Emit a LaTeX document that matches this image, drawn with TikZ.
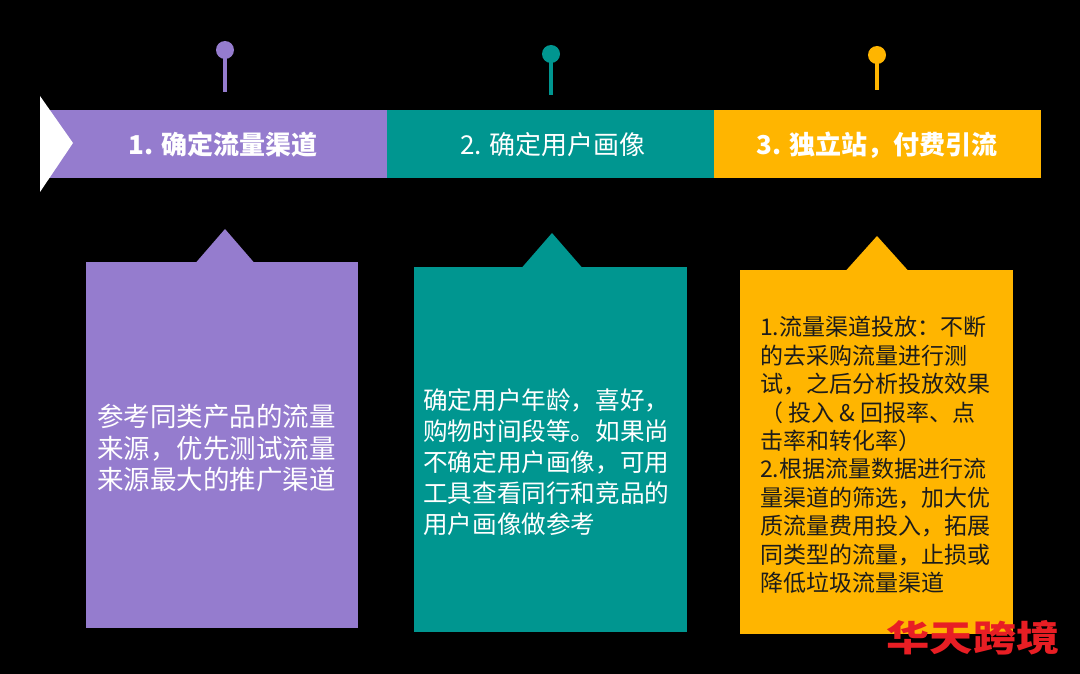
\documentclass[tikz,border=0pt]{standalone}
\usepackage{fontspec}
\newfontfamily\cjk{Noto Sans CJK SC}
\definecolor{cpurple}{RGB}{149,124,206}
\definecolor{cteal}{RGB}{0,150,144}
\definecolor{cyellow}{RGB}{255,181,0}
\definecolor{cred}{RGB}{232,30,36}
\definecolor{cdark}{RGB}{28,28,28}
\begin{document}
\begin{tikzpicture}[x=1pt,y=-1pt,
  barseg/.style={rectangle, draw=none, minimum height=68pt, inner sep=0pt, outer sep=0pt, anchor=north west},
  bartext/.style={inner sep=0pt, text=white, font={\cjk\fontsize{26}{26}\selectfont}},
  pinhead/.style={circle, minimum size=18pt, inner sep=0pt, outer sep=0pt},
  pinstem/.style={line width=4pt},
  card/.style={rectangle, draw=none, inner sep=0pt, outer sep=0pt, anchor=north west},
  cardtext/.style={anchor=west, align=left, inner sep=0pt}
]
\fill[black] (0,0) rectangle (1080,674);
\useasboundingbox (0,0) rectangle (1080,674);

% bar segments
\node[barseg, fill=cpurple, minimum width=342pt] (s1) at (45,110) {};
\node[barseg, fill=cteal, minimum width=327pt] (s2) at (387,110) {};
\node[barseg, fill=cyellow, minimum width=327pt] (s3) at (714,110) {};
\fill[white] (40,96) -- (73,143) -- (40,192) -- cycle;

\node[bartext, font={\cjk\bfseries\fontsize{26}{26}\selectfont}] (l1) at (223,145) {1. 确定流量渠道};
\node[bartext] (l2) at (553,145) {2. 确定用户画像};
\node[bartext, font={\cjk\bfseries\fontsize{26}{26}\selectfont}] (l3) at (877,145) {3. 独立站，付费引流};

% pins
\node[pinhead, fill=cpurple] (p1) at (225,50) {};
\coordinate (p1e) at (225,92);
\draw[pinstem, cpurple] (p1.center) -- (p1e);
\node[pinhead, fill=cteal] (p2) at (551,54) {};
\coordinate (p2e) at (551,95);
\draw[pinstem, cteal] (p2.center) -- (p2e);
\node[pinhead, fill=cyellow] (p3) at (877,55) {};
\coordinate (p3e) at (877,90);
\draw[pinstem, cyellow] (p3.center) -- (p3e);

% cards
\node[card, fill=cpurple, minimum width=272pt, minimum height=366pt] (c1) at (86,262) {};
\fill[cpurple] (196,262.5) -- (225,229) -- (254,262.5) -- cycle;
\node[card, fill=cteal, minimum width=273pt, minimum height=365pt] (c2) at (414,267) {};
\fill[cteal] (522,267.5) -- (552,233) -- (582,267.5) -- cycle;
\node[card, fill=cyellow, minimum width=273pt, minimum height=364pt] (c3) at (740,270) {};
\fill[cyellow] (846,270.5) -- (877,236) -- (908,270.5) -- cycle;

\node[cardtext, text=white, font={\cjk\fontsize{26.5}{31.5}\selectfont}] (t1) at (97,448)
 {参考同类产品的流量\\来源，优先测试流量\\来源最大的推广渠道};
\node[cardtext, text=white, font={\cjk\fontsize{24.6}{31}\selectfont}] (t2) at (423,462)
 {确定用户年龄，喜好，\\购物时间段等。如果尚\\不确定用户画像，可用\\工具查看同行和竞品的\\用户画像做参考};
\node[cardtext, text=cdark, font={\cjk\fontsize{23}{28.4}\selectfont}] (t3) at (760,455)
 {1.流量渠道投放：不断\\的去采购流量进行测\\试，之后分析投放效果\\（ 投入 \& 回报率、点\\击率和转化率）\\2.根据流量数据进行流\\量渠道的筛选，加大优\\质流量费用投入，拓展\\同类型的流量，止损或\\降低垃圾流量渠道};

% watermark
\node[inner sep=0pt, text=cred, font={\cjk\bfseries\fontsize{36}{36}\selectfont}, xscale=1.2] (wm) at (973,638) {华天跨境};
\end{tikzpicture}
\end{document}
